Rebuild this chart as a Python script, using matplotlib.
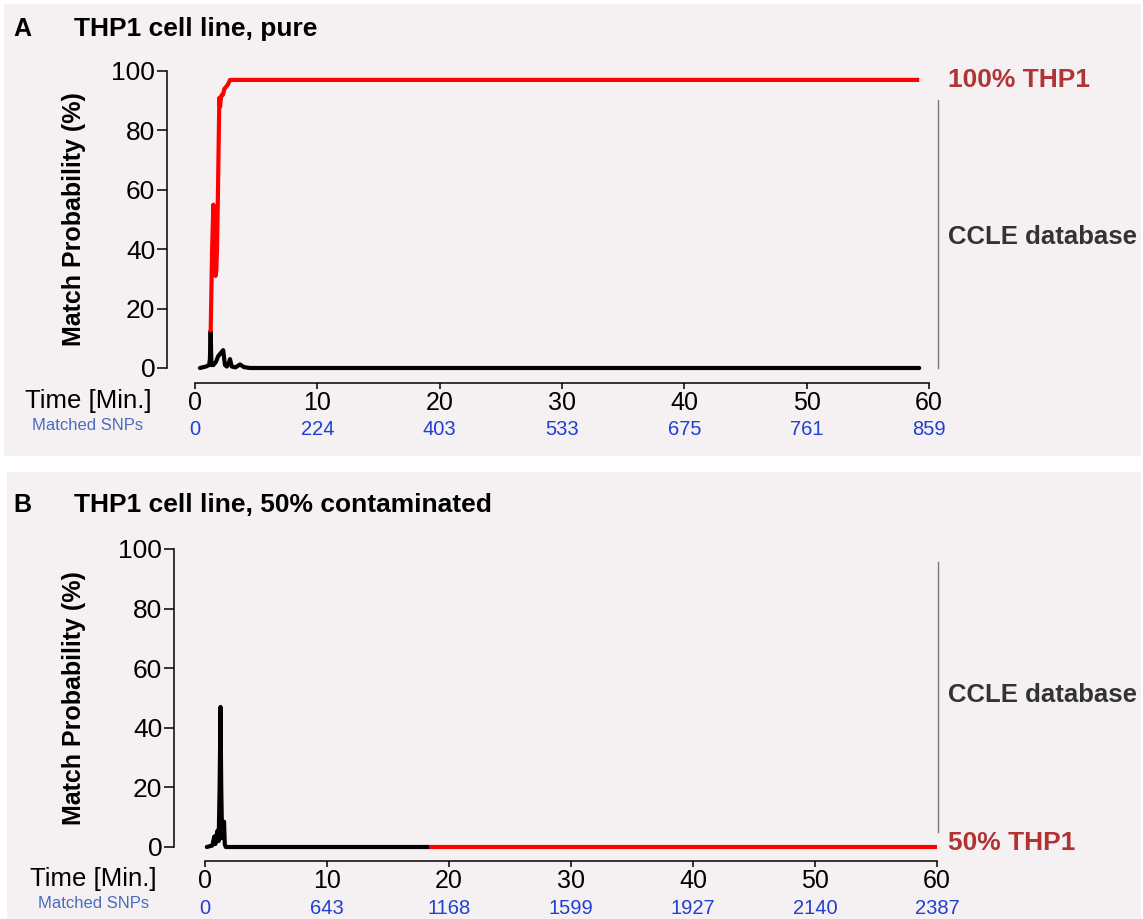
import matplotlib
matplotlib.use("Agg")
import matplotlib.pyplot as plt
from matplotlib.patches import Rectangle

plt.rcParams['font.family'] = ['Liberation Sans', 'DejaVu Sans']

# ---- data ----
# panel A: pure THP1
a_red_t = [1.28, 1.4, 1.5, 1.55, 1.62, 1.68, 1.74, 1.8, 1.88, 1.99, 2.05, 2.12, 2.2, 2.29, 2.4, 2.51, 2.7, 2.86, 59.2]
a_red_v = [12, 40, 55, 35, 45, 31, 33, 40, 60, 91, 88, 91, 92, 92, 94, 94.5, 95.5, 97, 97]
a_blk_t = [0.4, 0.9, 1.15, 1.22, 1.28, 1.34, 1.5, 1.7, 1.9, 2.1, 2.3, 2.45, 2.6, 2.75, 2.86, 3.0, 3.3, 3.68, 4.0, 4.5, 59.2]
a_blk_v = [0, 0.5, 1, 3, 12.5, 1, 1, 2, 4, 5, 6, 1, 0.5, 1.5, 3, 0.5, 0.2, 1.2, 0.3, 0, 0]
a_snps = [0, 224, 403, 533, 675, 761, 859]

# panel B: 50% contaminated
b_blk_t = [0.15, 0.6, 0.76, 0.85, 0.95, 1.03, 1.12, 1.2, 1.27, 1.33, 1.4, 1.5, 1.56, 1.62, 1.7, 18.4]
b_blk_v = [0, 0.5, 3.5, 1, 4, 5.5, 2, 20, 47, 20, 3, 8, 8.5, 1, 0, 0]
b_red_t = [18.4, 60]
b_red_v = [0, 0]
b_snps = [0, 643, 1168, 1599, 1927, 2140, 2387]

time_ticks = [0, 10, 20, 30, 40, 50, 60]
prob_ticks = [0, 20, 40, 60, 80, 100]

W, H = 1143, 919
BG = '#f5f1f2'
DARKRED = '#b03434'
BLUE = '#1f3fd0'
SNPLBL = '#4a6cc0'

fig = plt.figure(figsize=(W / 100, H / 100), dpi=100)
fig.patch.set_facecolor('white')

# panel backgrounds
fig.patches.append(Rectangle((4 / W, 1 - 456 / H), 1137 / W, 452 / H, transform=fig.transFigure,
                             facecolor=BG, edgecolor='none', zorder=-10))
fig.patches.append(Rectangle((7 / W, 0), 1134 / W, 1 - 472 / H, transform=fig.transFigure,
                             facecolor=BG, edgecolor='none', zorder=-10))


def make_panel(letter, title, title_y, spine_x, x0, x60, y100, y0, xaxis_y,
               red_t, red_v, blk_t, blk_v, snps, red_label, red_label_y,
               ccle_y, bracket, time_xy, snp_xy):
    ppm = (x60 - x0) / 60.0
    ppu = (y0 - y100) / 100.0
    wpx, hpx = x60 - spine_x, xaxis_y - y100
    ax = fig.add_axes([spine_x / W, 1 - xaxis_y / H, wpx / W, hpx / H])
    ax.set_facecolor('none')
    ax.set_xlim(-(x0 - spine_x) / ppm, 60)
    ax.set_ylim(-(xaxis_y - y0) / ppu, 100)

    ax.plot(blk_t, blk_v, color='black', lw=3.0, solid_capstyle='round', clip_on=False, zorder=3)
    ax.plot(red_t, red_v, color='#ff0000', lw=3.0, solid_capstyle='butt', clip_on=False, zorder=4)

    for s in ['top', 'right']:
        ax.spines[s].set_visible(False)
    ax.spines['left'].set_bounds(0, 100)
    ax.spines['bottom'].set_bounds(0, 60)
    for s in ['left', 'bottom']:
        ax.spines[s].set_linewidth(1.1)
    ax.set_yticks(prob_ticks)
    ax.set_xticks(time_ticks)
    ax.tick_params(axis='y', length=7.5, width=1.1, labelsize=19, pad=1)
    ax.tick_params(axis='x', length=4, width=1.1, labelsize=18, pad=2)
    ax.set_ylabel('Match Probability (%)', fontsize=18, fontweight='bold')
    ax.yaxis.set_label_coords((86 - spine_x) / wpx, (xaxis_y - (y0 + y100) / 2) / hpx)

    for t, n in zip(time_ticks, snps):
        ax.text(t, -(snp_xy[1] + 4 - xaxis_y) / hpx, str(n), transform=ax.get_xaxis_transform(),
                ha='center', va='center', fontsize=14.5, color=BLUE)

    fig.text(time_xy[0] / W, 1 - time_xy[1] / H, 'Time [Min.]', ha='center', va='center', fontsize=18.5)
    fig.text(snp_xy[0] / W, 1 - snp_xy[1] / H, 'Matched SNPs', ha='center', va='center',
             fontsize=12, color=SNPLBL)

    fig.text(13 / W, 1 - title_y / H, letter, fontsize=18, fontweight='bold', va='center')
    fig.text(74 / W, 1 - title_y / H, title, fontsize=19, fontweight='bold', va='center')

    xr = 60 + (938 - x60) / ppm
    xl = 60 + (948 - x60) / ppm
    ax.plot([xr, xr], bracket, color='#777777', lw=1.0, clip_on=False)
    ax.text(xl, red_label_y, red_label, color=DARKRED, fontsize=19, fontweight='bold',
            va='center', ha='left', clip_on=False)
    ax.text(xl, ccle_y, 'CCLE database', color='#333333', fontsize=18.5, fontweight='bold',
            va='center', ha='left', clip_on=False)
    return ax


axA = make_panel('A', 'THP1 cell line, pure', 29, 167, 195, 929, 71, 368, 383,
                 a_red_t, a_red_v, a_blk_t, a_blk_v, a_snps, '100% THP1', 97,
                 44, [90.4, 0], (88, 401), (88, 426))
axB = make_panel('B', 'THP1 cell line, 50% contaminated', 505, 174, 205, 937, 549, 847, 861,
                 b_red_t, b_red_v, b_blk_t, b_blk_v, b_snps, '50% THP1', 1.3,
                 51, [95.6, 5], (93, 879), (94, 904))

fig.savefig('out.png', dpi=100, facecolor=fig.get_facecolor())
